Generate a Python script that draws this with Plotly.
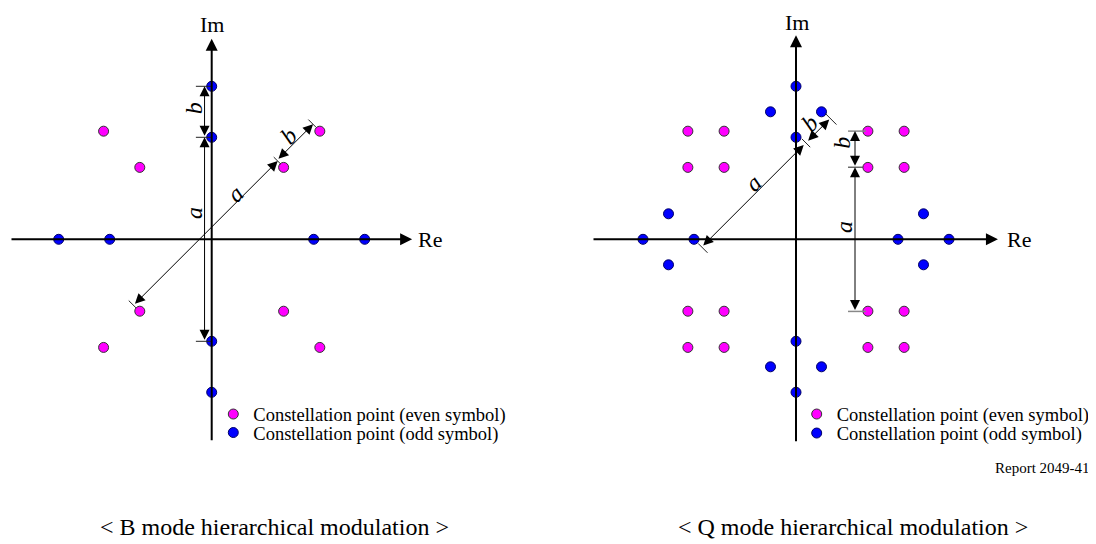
import math
import plotly.graph_objects as go

# ---------------- data ----------------
A = 2.0   # distance a
B = 1.0   # distance b
r2 = math.sqrt(2)

# B mode hierarchical modulation
b_even_re = [-2.12, -1.41, 1.41, 2.12, -1.41, 1.41, -2.12, 2.12]
b_even_im = [2.12, 1.41, 1.41, 2.12, -1.41, -1.41, -2.12, -2.12]
b_odd_re = [0, 0, 0, 0, -3, -2, 2, 3]
b_odd_im = [3, 2, -2, -3, 0, 0, 0, 0]

# Q mode hierarchical modulation
q_even_re = [-2.12, -1.41, 1.41, 2.12] * 4
q_even_im = [2.12] * 4 + [1.41] * 4 + [-1.41] * 4 + [-2.12] * 4
q_odd_re = [0, 0, 0, 0, -3, -2, 2, 3, -0.5, 0.5, -0.5, 0.5, -2.5, -2.5, 2.5, 2.5]
q_odd_im = [3, 2, -2, -3, 0, 0, 0, 0, 2.5, 2.5, -2.5, -2.5, 0.5, -0.5, 0.5, -0.5]

legend_labels = ["Constellation point (even symbol)", "Constellation point (odd symbol)"]
titles = ["< B mode hierarchical modulation >", "< Q mode hierarchical modulation >"]
report_label = "Report 2049-41"
axis_labels = ["Re", "Im"]

# ---------------- geometry of page ----------------
OFF = 8                      # page body margin
W, H = 1096 - OFF, 544 - OFF  # figure size
S = 51.0                     # pixels per unit
cy = 239.3 - OFF
cxL, cxR = 211.7 - OFF, 796.0 - OFF
XSPLIT = W / 2

FONT = "Liberation Serif, Times New Roman, serif"
MAG = "#FF00FF"
BLU = "#0000FF"

fig = go.Figure()

def add_pts(x, y, color, line_color, xa, ya, name, legend):
    fig.add_trace(go.Scatter(
        x=x, y=y, mode="markers", name=name, legend=legend,
        xaxis=xa, yaxis=ya,
        marker=dict(size=10, color=color, line=dict(color=line_color, width=1)),
        hoverinfo="x+y",
    ))

add_pts(b_even_re, b_even_im, MAG, "#333333", "x", "y", legend_labels[0], "legend")
add_pts(b_odd_re, b_odd_im, BLU, "#000066", "x", "y", legend_labels[1], "legend2")
add_pts(q_even_re, q_even_im, MAG, "#333333", "x2", "y2", legend_labels[0], "legend3")
add_pts(q_odd_re, q_odd_im, BLU, "#000066", "x2", "y2", legend_labels[1], "legend4")

annotations = []
shapes = []

def arrow(xr, yr, x0, y0, x1, y1, width=1, both=True, size=2.0, color="black"):
    annotations.append(dict(
        xref=xr, yref=yr, axref=xr, ayref=yr,
        x=x1, y=y1, ax=x0, ay=y0, text="", showarrow=True,
        arrowhead=2, arrowsize=size, arrowwidth=width, arrowcolor=color,
        startarrowhead=2, startarrowsize=size,
        arrowside="end+start" if both else "end",
    ))

def seg(xr, yr, x0, y0, x1, y1, color="#222222", width=1):
    shapes.append(dict(type="line", xref=xr, yref=yr, x0=x0, y0=y0, x1=x1, y1=y1,
                       line=dict(color=color, width=width)))

def label(xr, yr, x, y, text, angle, size=24, italic=True):
    annotations.append(dict(
        xref=xr, yref=yr, x=x, y=y, showarrow=False,
        text=f"<i>{text}</i>" if italic else text, textangle=angle,
        font=dict(family=FONT, size=size, color="black"),
        xanchor="center", yanchor="middle",
    ))

def diag(along, perp):
    return ((along - perp) / r2, (along + perp) / r2)

# ---------- main axes ----------
for xr, yr, lo_x, hi_x, lo_y, hi_y, re_x, im_y in [
    ("x", "y", -3.955, 3.93, -3.97, 3.93, 4.28, 4.22),
    ("x2", "y2", -4.0, 3.96, -3.99, 4.0, 4.37, 4.26),
]:
    arrow(xr, yr, lo_x, 0, hi_x, 0, width=2, both=False, size=1.2)
    arrow(xr, yr, 0, lo_y, 0, hi_y, width=2, both=False, size=1.2)
    label(xr, yr, re_x, 0, axis_labels[0], 0, size=22, italic=False)
    label(xr, yr, 0.01, im_y, axis_labels[1], 0, size=22, italic=False)

# ---------- B mode dimensions ----------
xd = -0.14
arrow("x", "y", xd, A, xd, A + B)
arrow("x", "y", xd, -A, xd, A)
for yy in (A + B, A, -A):
    seg("x", "y", -0.31, yy, 0, yy)
label("x", "y", -0.345, A + B / 2 + 0.07, "b", -90)
label("x", "y", -0.345, 0.52, "a", -90)

p = 0.17
x0, y0 = diag(-A, p)
x1, y1 = diag(A, p)
arrow("x", "y", x0, y0, x1, y1)
x0, y0 = diag(A, 0.19)
x1, y1 = diag(A + B, 0.19)
arrow("x", "y", x0, y0, x1, y1)
for al, p0, p1 in [(-A, 0.10, 0.30), (A, 0.08, 0.28), (A + B, 0.10, 0.32)]:
    xa0, ya0 = diag(al, p0)
    xa1, ya1 = diag(al, p1)
    seg("x", "y", xa0, ya0, xa1, ya1)
lx, ly = diag(0.96, 0.31)
label("x", "y", lx, ly, "a", -45)
lx, ly = diag(A + B / 2, 0.36)
label("x", "y", lx, ly, "b", -45)

# ---------- Q mode dimensions ----------
q = A / r2
Q = (A + B) / r2
xd2 = 1.157
arrow("x2", "y2", xd2, q, xd2, Q)
arrow("x2", "y2", xd2, -q, xd2, q)
seg("x2", "y2", 1.02, Q, 1.37, Q, color="#888888", width=1.5)
seg("x2", "y2", 1.02, q, 1.31, q)
seg("x2", "y2", 1.02, -q, 1.37, -q, color="#888888", width=1.5)
label("x2", "y2", 0.895, (q + Q) / 2 + 0.12, "b", -90)
label("x2", "y2", 0.928, 0.247, "a", -90)

pp = 1.2
x0, y0 = diag(-q, pp)
x1, y1 = diag(q, pp)
arrow("x2", "y2", x0, y0, x1, y1)
x0, y0 = diag(q + 0.08, pp)
x1, y1 = diag(Q, pp)
arrow("x2", "y2", x0, y0, x1, y1)
for al, p0, p1 in [(-q, 1.04, 1.30), (q + 0.06, 1.08, 1.31), (Q + 0.03, 1.03, 1.34)]:
    xa0, ya0 = diag(al, p0)
    xa1, ya1 = diag(al, p1)
    seg("x2", "y2", xa0, ya0, xa1, ya1)
lx, ly = diag(0.193, 1.377)
label("x2", "y2", lx, ly, "a", -45)
lx, ly = diag(1.803, 1.414)
label("x2", "y2", lx, ly, "b", -45)

# ---------- titles / report (positions in page pixels) ----------
def px(xp):
    return (xp - OFF) / W

def py(yp):
    return 1 - (yp - OFF) / H

annotations.append(dict(xref="paper", yref="paper", x=px(274.5), y=py(527),
                        text=titles[0], showarrow=False, xanchor="center", yanchor="middle",
                        font=dict(family=FONT, size=24, color="black")))
annotations.append(dict(xref="paper", yref="paper", x=px(853), y=py(527),
                        text=titles[1], showarrow=False, xanchor="center", yanchor="middle",
                        font=dict(family=FONT, size=24, color="black")))
annotations.append(dict(xref="paper", yref="paper", x=px(1092), y=py(468),
                        text=report_label, showarrow=False, xanchor="right", yanchor="middle",
                        font=dict(family=FONT, size=15, color="black")))

def leg(text_x, y_px):
    return dict(x=px(text_x - 40), y=py(y_px), xanchor="left", yanchor="middle",
                bgcolor="rgba(0,0,0,0)", borderwidth=0,
                font=dict(family=FONT, size=18.5, color="black"))

fig.update_layout(
    width=W, height=H, margin=dict(l=0, r=0, t=0, b=0),
    paper_bgcolor="white", plot_bgcolor="white",
    showlegend=True,
    legend=leg(253.3, 414.5),
    legend2=leg(253.3, 433),
    legend3=leg(836.7, 414.5),
    legend4=leg(836.7, 433.5),
    xaxis=dict(domain=[0, 0.5], range=[-cxL / S, (XSPLIT - cxL) / S], visible=False, fixedrange=True),
    yaxis=dict(domain=[0, 1], range=[-(H - cy) / S, cy / S], visible=False, fixedrange=True),
    xaxis2=dict(domain=[0.5, 1], range=[-(cxR - XSPLIT) / S, (W - cxR) / S], visible=False, fixedrange=True),
    yaxis2=dict(domain=[0, 1], range=[-(H - cy) / S, cy / S], visible=False, anchor="x2", fixedrange=True),
    annotations=annotations,
    shapes=shapes,
)

fig.write_html("out.html")
